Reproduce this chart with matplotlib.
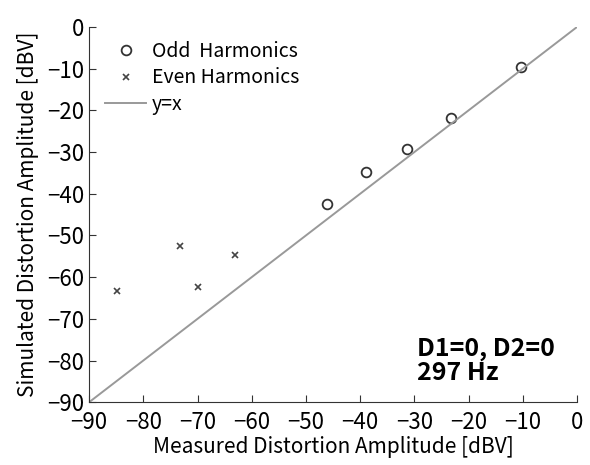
import numpy as np
import matplotlib.pyplot as plt

plt.rcParams['font.family'] = ['Noto Sans CJK JP', 'DejaVu Sans']

# data
odd_measured = [-46.1, -39.0, -31.3, -23.3, -10.3]
odd_simulated = [-42.5, -34.9, -29.2, -21.9, -9.7]
even_measured = [-84.8, -73.2, -70.0, -63.0]
even_simulated = [-63.3, -52.5, -62.3, -54.7]
ticks = np.arange(-90, 1, 10)

fig = plt.figure(figsize=(5.9, 4.65), dpi=100)
ax = fig.add_axes([0.151, 0.135, 0.827, 0.807])

ax.plot(odd_measured, odd_simulated, 'o', mfc='none', mec='#333333', ms=7, mew=1.3,
        label='Odd  Harmonics')
ax.plot(even_measured, even_simulated, 'x', color='#444444', ms=5, mew=1.2,
        label='Even Harmonics')
ax.plot([-90, 0], [-90, 0], color='#999999', lw=1.4, label='y=x')

ax.set_xlim(-90, 0)
ax.set_ylim(-90, 0)
ax.set_xticks(ticks)
ax.set_yticks(ticks)
ax.tick_params(direction='in', length=5, labelsize=16, color='#333333')
ax.tick_params(axis='x', pad=6)
for s in ['top', 'right']:
    ax.spines[s].set_visible(False)
for s in ['left', 'bottom']:
    ax.spines[s].set_color('#333333')

ax.set_xlabel('Measured Distortion Amplitude [dBV]', fontsize=15, labelpad=2)
ax.set_ylabel('Simulated Distortion Amplitude [dBV]', fontsize=15, labelpad=6)

ax.legend(loc='upper left', frameon=False, fontsize=14, handlelength=2.1,
          handletextpad=0.3, labelspacing=0.3, borderaxespad=0.3,
          bbox_to_anchor=(0.005, 1.0))

ax.text(-29.5, -80, 'D1=0, D2=0\n297 Hz', fontsize=18, fontweight='bold',
        va='center', ha='left', linespacing=1.0)

fig.savefig('out.png', dpi=100)
